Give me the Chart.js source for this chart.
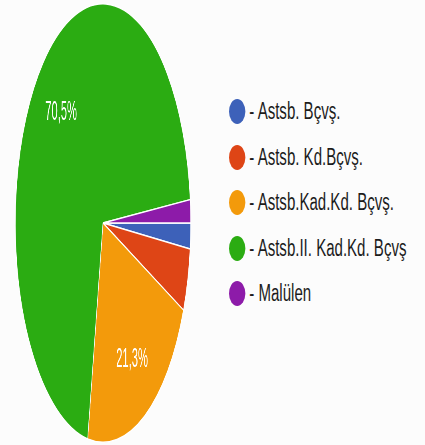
<!DOCTYPE html>
<html>
<head>
<meta charset="utf-8">
<script src="https://cdn.jsdelivr.net/npm/chart.js@4"></script>
<style>
    body { margin: 0; background: #fcfcfc; width: 425px; height: 445px; overflow: hidden; position: relative; }
    #pie { position: absolute; left: 0; top: 0; transform: scaleX(0.4); transform-origin: 0 0; }
    #legend { position: absolute; left: 229px; top: 89px; transform: scaleX(0.654); transform-origin: 0 0;
        font-family: "Liberation Sans", Arial, sans-serif; font-size: 23px; color: #1c1c1c; }
    .row { height: 45.5px; display: flex; align-items: center; white-space: nowrap; }
    .dot { width: 25px; height: 25px; border-radius: 50%; margin-right: 6px; flex: none; }
</style>
</head>
<body>
<canvas id="pie" width="515" height="445"></canvas>
<div id="legend"></div>
<script>
// dados do grafico
var labels = ['- Astsb. Bçvş.', '- Astsb. Kd.Bçvş.', '- Astsb.Kad.Kd. Bçvş.', '- Astsb.II. Kad.Kd. Bçvş', '- Malülen']
var values = [1.9, 4.6, 21.3, 70.5, 1.7]
var colors = ['#3d61b9', '#de4516', '#f39a0b', '#2bac12', '#8d1ba9']

// rotulos de porcentagem dentro das fatias
var pctLabels = {
    id: 'pctLabels',
    afterDatasetsDraw: function (chart) {
        var ctx = chart.ctx
        var total = values.reduce(function (a, b) { return a + b }, 0)
        var arcs = chart.getDatasetMeta(0).data
        ctx.save()
        ctx.fillStyle = '#ffffff'
        ctx.font = '28px "Liberation Sans", Arial, sans-serif'
        ctx.textAlign = 'center'
        ctx.textBaseline = 'middle'
        arcs.forEach(function (arc, i) {
            var pct = values[i] / total * 100
            if (pct < 5) return
            var p = arc.getProps(['x', 'y', 'startAngle', 'endAngle', 'outerRadius'], true)
            var mid = (p.startAngle + p.endAngle) / 2
            var x = p.x + Math.cos(mid) * p.outerRadius * 0.7
            var y = p.y + Math.sin(mid) * p.outerRadius * 0.7
            ctx.fillText(pct.toFixed(1).replace('.', ',') + '%', x, y + 1)
        })
        ctx.restore()
    }
}

var pieCanvas = document.getElementById('pie').getContext('2d')
var pieChart = new Chart(pieCanvas, {
    type: 'pie',
    data: {
        labels: labels,
        datasets: [{
            data: values,
            backgroundColor: colors,
            borderColor: '#ffffff',
            borderWidth: 1.5
        }]
    },
    options: {
        responsive: false,
        animation: false,
        rotation: 90,
        layout: { padding: { top: 3, bottom: 2 } },
        plugins: {
            legend: { display: false },
            tooltip: { enabled: false }
        }
    },
    plugins: [pctLabels]
})

// legenda em html
var legend = document.getElementById('legend')
labels.forEach(function (text, i) {
    var row = document.createElement('div')
    row.className = 'row'
    var dot = document.createElement('span')
    dot.className = 'dot'
    dot.style.background = colors[i]
    var span = document.createElement('span')
    span.textContent = text
    row.appendChild(dot)
    row.appendChild(span)
    legend.appendChild(row)
})
</script>
</body>
</html>
